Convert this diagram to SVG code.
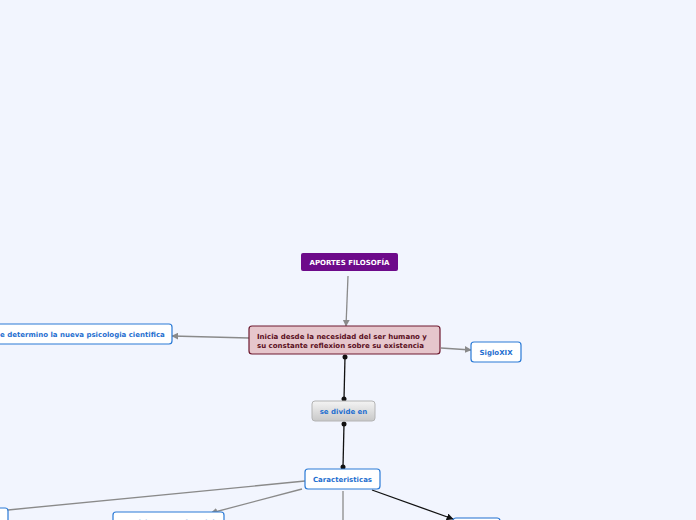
<svg xmlns="http://www.w3.org/2000/svg" width="696" height="520" viewBox="0 0 696 520">
<defs>
<linearGradient id="gray" x1="0" y1="0" x2="0" y2="1"><stop offset="0" stop-color="#f4f4f4"/><stop offset="1" stop-color="#c8c8c8"/></linearGradient>
<marker id="ag" viewBox="0 0 10 10" refX="9" refY="5" markerWidth="7" markerHeight="7" orient="auto" markerUnits="userSpaceOnUse"><path d="M0,0 L10,5 L0,10 z" fill="#8a8a8a"/></marker>
<marker id="ak" viewBox="0 0 10 10" refX="9" refY="5" markerWidth="7" markerHeight="7" orient="auto" markerUnits="userSpaceOnUse"><path d="M0,0 L10,5 L0,10 z" fill="#111"/></marker>
</defs>
<style>
text{font-family:"DejaVu Sans",Verdana,sans-serif;font-weight:bold;font-size:7px}
.b rect{fill:#fff;stroke:#2a7ad6;stroke-width:1.2}
.b text{fill:#1f6fd0}
.g{stroke:#8a8a8a;stroke-width:1.3;fill:none}
.k{stroke:#111;stroke-width:1.3;fill:none}
</style>
<rect width="696" height="520" fill="#f2f5fe"/>
<g id="connectors">
<line class="g" x1="348" y1="276" x2="346" y2="326" marker-end="url(#ag)"/>
<line class="g" x1="249" y1="338" x2="172" y2="336" marker-end="url(#ag)"/>
<line class="g" x1="441" y1="348" x2="471" y2="350" marker-end="url(#ag)"/>
<line class="k" x1="345" y1="357" x2="344" y2="399"/>
<circle cx="345" cy="357" r="2.5" fill="#111"/><circle cx="344" cy="399" r="2.5" fill="#111"/>
<line class="k" x1="344" y1="424" x2="343" y2="467"/>
<circle cx="344" cy="424" r="2.5" fill="#111"/><circle cx="343" cy="467" r="2.5" fill="#111"/>
<path class="g" d="M305,481 L8,510"/>
<line class="g" x1="302" y1="489" x2="211" y2="513" marker-end="url(#ag)"/>
<line class="g" x1="343" y1="491" x2="343" y2="520"/>
<line class="k" x1="372" y1="490" x2="453" y2="519" marker-end="url(#ak)"/>
</g>
<g id="aportes"><rect x="301" y="253" width="97" height="18" rx="2" fill="#6d0a8a"/><text x="349.5" y="265" text-anchor="middle" fill="#fff">APORTES FILOSOFÍA</text></g>
<g id="inicia"><rect x="249" y="326" width="191" height="28" rx="3" fill="#e6c6cc" stroke="#6e1a30" stroke-width="1.2"/><text x="257" y="338.5" fill="#5a0f22">Inicia desde la necesidad del ser humano y</text><text x="257" y="347.5" fill="#5a0f22">su constante reflexion sobre su existencia</text></g>
<g id="psicologia" class="b"><rect x="-6" y="324" width="178" height="20" rx="3"/><text x="0" y="337">e determino la nueva psicologia cientifica</text></g>
<g id="siglo" class="b"><rect x="471" y="342" width="50" height="20" rx="3"/><text x="496" y="355" text-anchor="middle">SigloXIX</text></g>
<g id="divide"><rect x="312" y="401" width="63" height="20" rx="3" fill="url(#gray)" stroke="#b4b4b4"/><text x="343.5" y="414" text-anchor="middle" fill="#1f6fd0">se divide en</text></g>
<g id="caracteristicas" class="b"><rect x="305" y="469" width="75" height="20" rx="3"/><text x="342.5" y="482" text-anchor="middle">Caracteristicas</text></g>
<g id="izq" class="b"><rect x="-20" y="508" width="28" height="20" rx="3"/></g>
<g id="precisiones" class="b"><rect x="113" y="512" width="111" height="20" rx="3"/><text x="121" y="525">Precisiones en el modelo</text></g>
<g id="der" class="b"><rect x="453" y="518" width="47" height="20" rx="3" style="stroke:#1f6fd0"/></g>
</svg>
